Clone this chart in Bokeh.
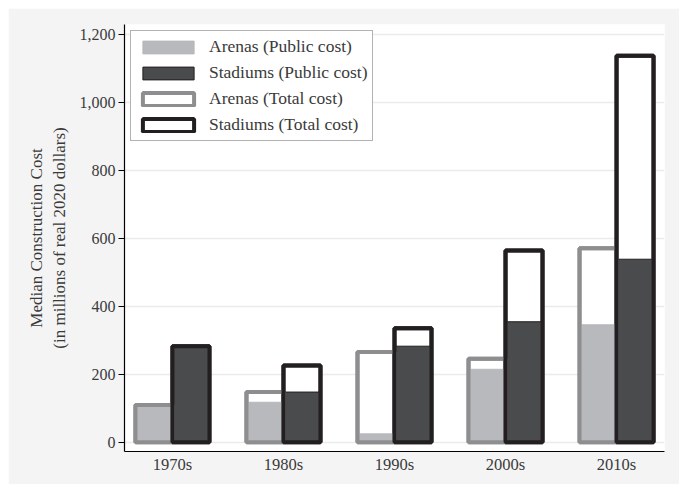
from bokeh.plotting import figure
from bokeh.models import (Range1d, FixedTicker, NumeralTickFormatter, Legend,
                          LegendItem, ColumnDataSource)
from bokeh.embed import file_html
from bokeh.resources import INLINE

decades = ["1970s", "1980s", "1990s", "2000s", "2010s"]
arena_public = [110, 118, 25, 215, 346]
stadium_public = [283, 148, 283, 355, 539]
arena_total = [110, 148, 266, 246, 571]
stadium_total = [283, 226, 336, 565, 1138]
y_ticks = [0, 200, 400, 600, 800, 1000, 1200]

FONT = "Liberation Serif"
LIGHT = "#b8b9bc"
DARK = "#4a4b4d"
GRAY_LINE = "#8e8e90"
BLACK_LINE = "#231f20"
TEXT = "#3a3a3a"

idx = list(range(1, len(decades) + 1))
bw = 1 / 3
src = ColumnDataSource(dict(
    xa=[i - bw / 2 for i in idx],
    xs=[i + bw / 2 for i in idx],
    ap=arena_public, sp=stadium_public, at=arena_total, st=stadium_total,
))

p = figure(width=671, height=476, output_backend="svg", toolbar_location=None,
           x_range=Range1d(0.568, 5.432), y_range=Range1d(-27, 1230),
           min_border_left=116, min_border_right=15, min_border_top=16,
           min_border_bottom=33)
p.margin = (8, 0, 0, 8)
p.border_fill_color = "#f4f4f4"
p.background_fill_color = "white"
p.outline_line_color = None

# total cost (white fill + outline)
at_r = p.vbar(x="xa", top="at", bottom=0, width=bw, source=src,
              fill_color="white", line_color=GRAY_LINE, line_width=4)
st_r = p.vbar(x="xs", top="st", bottom=0, width=bw, source=src,
              fill_color="white", line_color=BLACK_LINE, line_width=4)
# public cost
ap_r = p.vbar(x="xa", top="ap", bottom=0, width=bw, source=src,
              fill_color=LIGHT, line_color=LIGHT, line_width=1)
sp_r = p.vbar(x="xs", top="sp", bottom=0, width=bw, source=src,
              fill_color=DARK, line_color=BLACK_LINE, line_width=1)
# outlines on top
p.vbar(x="xa", top="at", bottom=0, width=bw, source=src,
       fill_color=None, line_color=GRAY_LINE, line_width=4)
p.vbar(x="xs", top="st", bottom=0, width=bw, source=src,
       fill_color=None, line_color=BLACK_LINE, line_width=4)

# axes
p.xaxis.ticker = FixedTicker(ticks=idx)
p.xaxis.major_label_overrides = {i: d for i, d in zip(idx, decades)}
p.xaxis.minor_tick_line_color = None
p.xaxis.major_tick_out = 0
p.xaxis.major_tick_in = 0
p.xaxis.major_label_standoff = 3
p.yaxis.ticker = FixedTicker(ticks=y_ticks)
p.yaxis.formatter = NumeralTickFormatter(format="0,0")
p.yaxis.minor_tick_line_color = None
p.yaxis.major_tick_out = 6
p.yaxis.major_tick_in = 0
p.yaxis.major_label_standoff = 3
p.yaxis.axis_label = "Median Construction Cost\n(in millions of real 2020 dollars)"
p.yaxis.axis_label_text_font = FONT
p.yaxis.axis_label_text_font_size = "17px"
p.yaxis.axis_label_text_font_style = "normal"
p.yaxis.axis_label_text_color = TEXT
p.yaxis.axis_label_standoff = 8
for ax in (p.xaxis, p.yaxis):
    ax.axis_line_color = "black"
    ax.axis_line_width = 1.2
    ax.major_label_text_font = FONT
    ax.major_label_text_color = TEXT
p.xaxis.major_tick_line_color = None
p.yaxis.major_tick_line_color = "black"
p.xaxis.major_label_text_font_size = "16.5px"
p.yaxis.major_label_text_font_size = "16px"

p.xgrid.grid_line_color = None
p.ygrid.ticker = FixedTicker(ticks=y_ticks)
p.ygrid.grid_line_color = "#ebebeb"
p.ygrid.grid_line_width = 1.6

legend = Legend(items=[
    LegendItem(label="Arenas (Public cost)", renderers=[ap_r]),
    LegendItem(label="Stadiums (Public cost)", renderers=[sp_r]),
    LegendItem(label="Arenas (Total cost)", renderers=[at_r]),
    LegendItem(label="Stadiums (Total cost)", renderers=[st_r]),
], location="top_left")
legend.margin = 6
legend.padding = 5
legend.spacing = 5
legend.glyph_width = 64
legend.glyph_height = 16
legend.label_height = 16
legend.label_standoff = 9
legend.label_text_font = FONT
legend.label_text_font_size = "17.5px"
legend.label_text_color = TEXT
legend.border_line_color = "#666666"
legend.border_line_width = 1
legend.background_fill_color = "white"
legend.background_fill_alpha = 1
p.add_layout(legend)

open("out.html", "w").write(file_html(p, INLINE))
